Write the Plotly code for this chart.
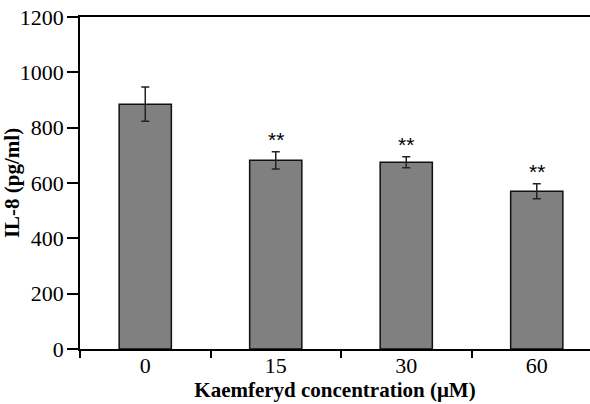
import plotly.graph_objects as go

# IL-8 secretion versus kaempferol concentration
concentrations = ["0", "15", "30", "60"]
il8_mean = [885, 682, 675, 570]
il8_sem = [62, 31, 20, 27]
significance = ["", "**", "**", "**"]

fig = go.Figure()

fig.add_trace(go.Bar(
    x=concentrations,
    y=il8_mean,
    width=0.4,
    marker=dict(color="#808080", line=dict(color="#111111", width=1.5)),
    error_y=dict(type="data", array=il8_sem, visible=True,
                 color="#222222", thickness=1.5, width=4),
    showlegend=False,
))

# significance marks above the error bars (category index positions)
for idx, (m, e, s) in enumerate(zip(il8_mean, il8_sem, significance)):
    if s:
        fig.add_annotation(
            x=idx, y=m + e, xref="x", yref="y", text=s, showarrow=False,
            yanchor="bottom", yshift=-1,
            font=dict(family="Liberation Sans, Arial", size=21, color="black"),
        )

fig.update_layout(
    width=590, height=404,
    margin=dict(l=80, r=0, t=17, b=55, autoexpand=False),
    plot_bgcolor="white", paper_bgcolor="white",
    font=dict(family="Liberation Serif, Times New Roman", size=20, color="black"),
)

fig.update_xaxes(
    type="category",
    range=[-0.5, 3.408],
    showline=True, linecolor="black", linewidth=1.5,
    mirror=True,
    ticks="outside", tickson="boundaries", ticklen=7, tickwidth=1.5, tickcolor="black",
    showgrid=False,
    tickfont=dict(size=22),
    ticklabelstandoff=-4,
    title=dict(text="<b>Kaemferyd concentration (μM)</b>", font=dict(size=21), standoff=0),
)

fig.update_yaxes(
    range=[0, 1200],
    tickvals=[0, 200, 400, 600, 800, 1000, 1200],
    showline=True, linecolor="black", linewidth=1.5,
    ticks="outside", ticklen=11, tickwidth=1.5, tickcolor="black",
    showgrid=False, zeroline=False,
    tickfont=dict(size=22),
    ticklabelstandoff=-1,
    title=dict(text="<b>IL-8 (pg/ml)</b>", font=dict(size=21), standoff=4),
)

fig.write_html("out.html")
